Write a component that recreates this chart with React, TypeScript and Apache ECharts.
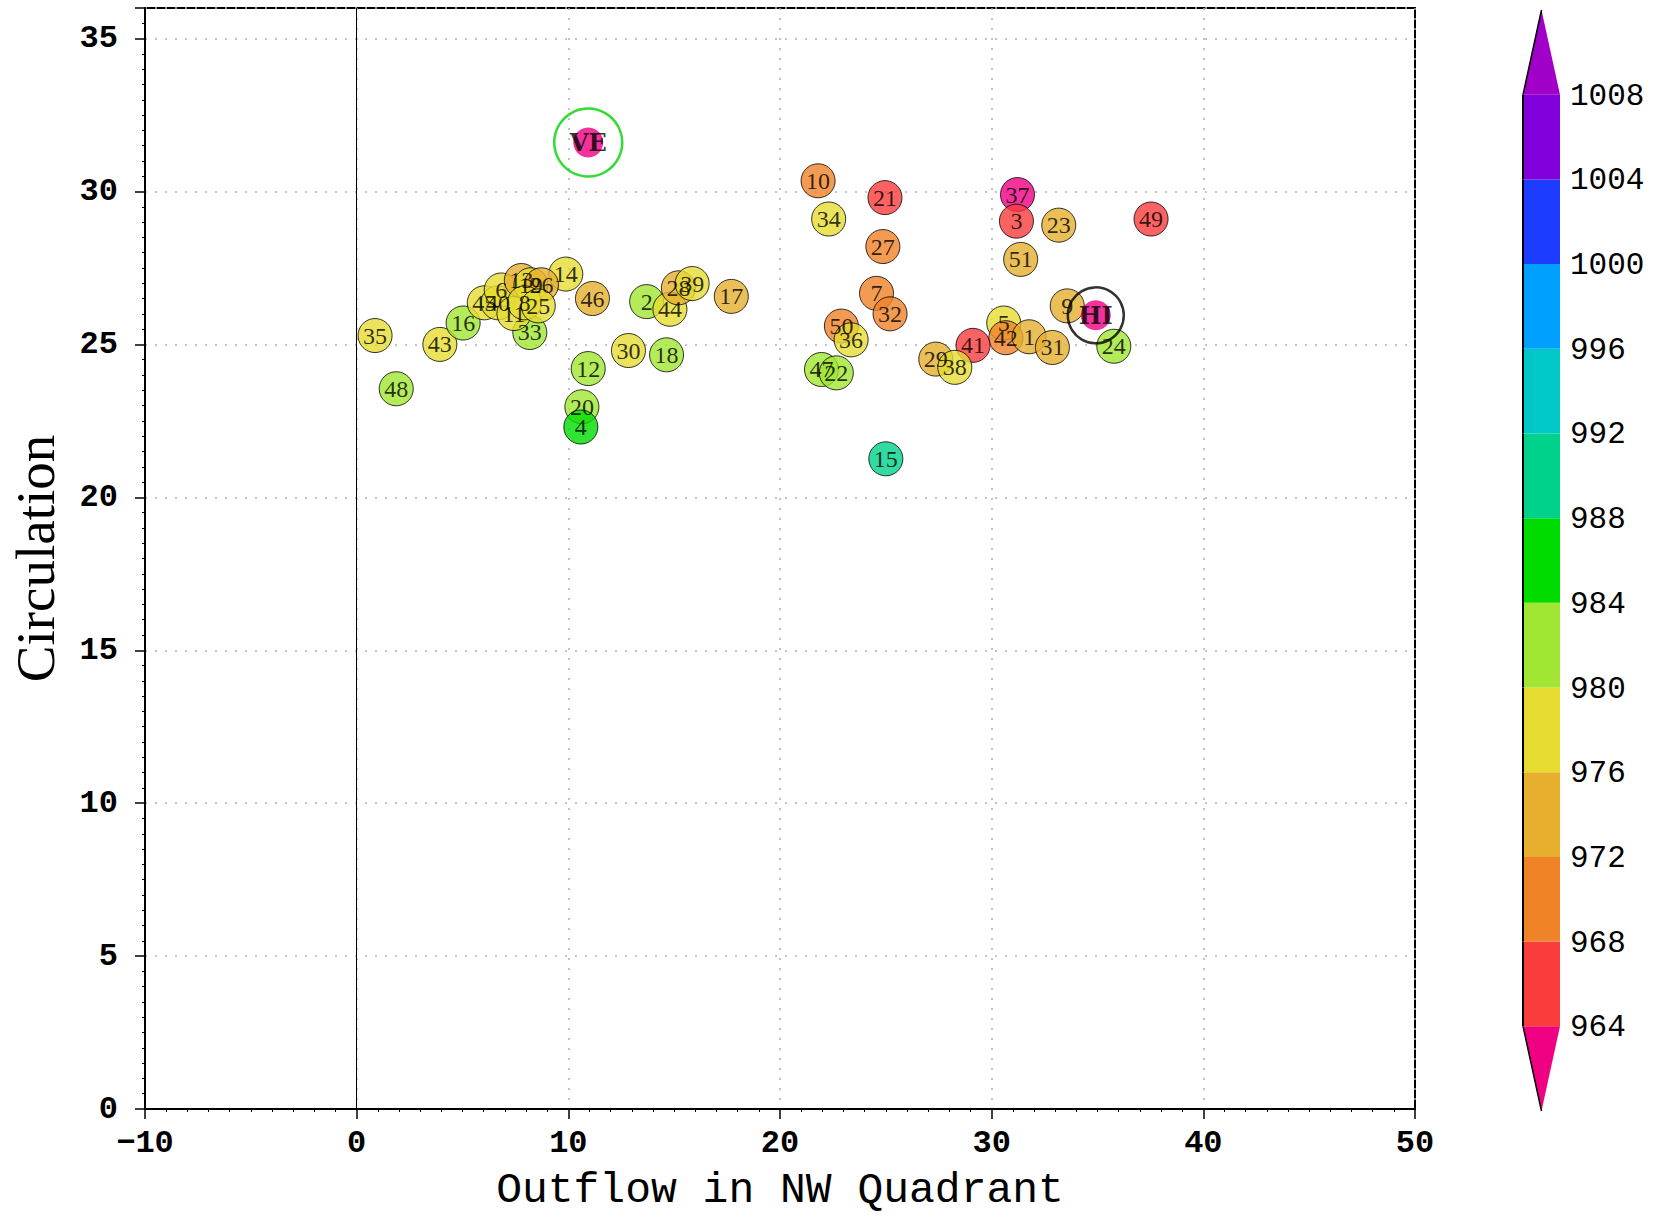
import React, { useEffect, useRef } from "react";
import * as echarts from "echarts";

// ---- data ----
const labels = [
  "10", "21", "34", "27", "37", "3", "23", "49", "51", "7", "32", "9", "24", "5", "42", "1",
  "41", "31", "29", "38", "50", "36", "47", "22", "15", "35", "48", "43", "16", "33", "14",
  "46", "12", "20", "4", "30", "18", "2", "44", "28", "39", "17", "45", "40", "6", "11",
  "13", "19", "26", "8", "25",
];
const outflow = [
  21.8, 24.96, 22.3, 24.86, 31.22, 31.17, 33.17, 37.53, 31.37, 24.56, 25.2, 33.57, 35.77, 30.57, 30.67, 31.77,
  29.12, 32.87, 27.36, 28.26, 22.9, 23.36, 21.96, 22.66, 25.0, 0.87, 1.87, 3.93, 5.03, 8.18, 9.88,
  11.14, 10.94, 10.64, 10.59, 12.84, 14.64, 13.7, 14.8, 15.2, 15.85, 17.7, 6.03, 6.68, 6.83, 7.43,
  7.78, 8.23, 8.73, 7.93, 8.58,
];
const circulation = [
  30.35, 29.8, 29.1, 28.2, 29.9, 29.03, 28.9, 29.1, 27.78, 26.67, 26.0, 26.26, 24.94, 25.7, 25.22, 25.25,
  24.97, 24.9, 24.52, 24.25, 25.6, 25.15, 24.18, 24.07, 21.26, 25.29, 23.55, 25.0, 25.7, 25.39, 27.3,
  26.5, 24.21, 22.96, 22.3, 24.8, 24.66, 26.4, 26.15, 26.85, 26.99, 26.57, 26.36, 26.36, 26.78, 26.01,
  27.09, 26.95, 26.95, 26.36, 26.26,
];
const pressure = [
  970, 966, 978, 970, 962, 966, 974, 966, 974, 970, 970, 974, 982, 978, 970, 974,
  966, 974, 974, 978, 970, 978, 982, 982, 990, 978, 982, 978, 982, 982, 978,
  974, 982, 982, 986, 978, 982, 982, 978, 974, 978, 974, 978, 978, 978, 978,
  974, 978, 974, 978, 978,
];

const stormLabels = ["VE", "HI"];
const stormOutflow = [10.94, 34.92];
const stormCirculation = [31.6, 25.95];
const stormPressure = [960, 961];
const ringColors = ["#00d200", "#000000"];

const cbBounds = [960, 964, 968, 972, 976, 980, 984, 988, 992, 996, 1000, 1004, 1008, 1012];
const cbColors = [
  "#f00082", "#fa3c3c", "#f08228", "#e6af2d", "#e6dc32", "#a0e632", "#00dc00",
  "#00d28c", "#00c8c8", "#00a0ff", "#1e3cff", "#8200dc", "#a000c8",
];

function colorFor(p: number): string {
  for (let i = 1; i < cbBounds.length - 1; i++) {
    if (p < cbBounds[i]) return cbColors[i - 1];
  }
  return cbColors[cbColors.length - 1];
}

export default function App() {
  const ref = useRef<HTMLDivElement>(null);
  useEffect(() => {
    if (!ref.current) return;
    const chart = echarts.init(ref.current, null, { renderer: "svg" });
    const pts = labels.map((l, i) => ({
      name: l,
      value: [outflow[i], circulation[i], pressure[i]],
      itemStyle: { color: colorFor(pressure[i]) },
    }));
    const storms = stormLabels.map((l, i) => ({
      name: l,
      value: [stormOutflow[i], stormCirculation[i], stormPressure[i]],
      itemStyle: { color: colorFor(stormPressure[i]) },
    }));
    const rings = stormLabels.map((l, i) => ({
      name: l,
      value: [stormOutflow[i], stormCirculation[i]],
      itemStyle: { color: "rgba(0,0,0,0)", borderColor: ringColors[i], borderWidth: 2.5 },
      symbolSize: i === 0 ? 68 : 56,
    }));
    const cbData = cbColors.map((c, i) => [cbBounds[i], cbBounds[i + 1], i]);

    const tickFont = { fontFamily: "Liberation Mono", fontWeight: "bold" as const, fontSize: 32, color: "#000" };

    chart.setOption({
      animation: false,
      backgroundColor: "#fff",
      grid: [
        { left: 141, right: 249, top: 8, bottom: 102, show: true, borderColor: "#000", borderWidth: 2 },
        { left: 1523, width: 37, top: 10, height: 1101 },
      ],
      xAxis: [
        {
          gridIndex: 0,
          type: "value",
          min: -10,
          max: 50,
          interval: 10,
          name: "Outflow in NW Quadrant",
          nameLocation: "middle",
          nameGap: 60,
          nameTextStyle: { fontFamily: "Liberation Mono", fontSize: 43, color: "#000" },
          axisLine: { show: true, onZero: false, lineStyle: { color: "#000", width: 2 } },
          axisTick: { show: true, inside: false, length: 10, lineStyle: { color: "#000", width: 1.5 } },
          minorTick: { show: true, splitNumber: 10, length: 3, lineStyle: { color: "#000" } },
          axisLabel: {
            ...tickFont,
            margin: 18,
            formatter: (v: number) => (v < 0 ? "\u2212" + Math.abs(v) : String(v)),
          },
          splitLine: { show: true, lineStyle: { color: "#b0b0b0", type: [2, 8], width: 1.5 } },
        },
        { gridIndex: 1, type: "value", min: 0, max: 1, show: false },
      ],
      yAxis: [
        {
          gridIndex: 0,
          type: "value",
          min: 0,
          max: 36,
          interval: 5,
          name: "Circulation",
          nameLocation: "middle",
          nameGap: 82,
          nameTextStyle: { fontFamily: "Liberation Serif", fontSize: 55, color: "#000" },
          axisLine: { show: true, onZero: false, lineStyle: { color: "#000", width: 2 } },
          axisTick: { show: true, inside: false, length: 10, lineStyle: { color: "#000", width: 1.5 } },
          minorTick: { show: true, splitNumber: 10, length: 3, lineStyle: { color: "#000" } },
          axisLabel: { ...tickFont, margin: 27, showMaxLabel: false },
          splitLine: { show: true, lineStyle: { color: "#b0b0b0", type: [2, 8], width: 1.5 } },
        },
        {
          gridIndex: 1,
          type: "value",
          position: "right",
          min: 960,
          max: 1012,
          interval: 4,
          axisLine: { show: false },
          axisTick: { show: false },
          splitLine: { show: false },
          axisLabel: {
            fontFamily: "Liberation Mono",
            fontSize: 31,
            color: "#000",
            margin: 10,
            verticalAlign: "top",
            padding: [-14, 0, 0, 0],
            showMinLabel: true,
            showMaxLabel: true,
            formatter: (v: number) => (v === 960 || v === 1012 ? "" : String(v)),
          },
        },
      ],
      series: [
        {
          type: "scatter",
          xAxisIndex: 0,
          yAxisIndex: 0,
          symbol: "circle",
          symbolSize: 34,
          data: pts,
          itemStyle: { borderColor: "#000", borderWidth: 1 },
          label: {
            show: true,
            position: "inside",
            formatter: "{b}",
            fontFamily: "Liberation Serif",
            fontSize: 24,
            color: "#000",
          },
          emphasis: { disabled: true },
          markLine: {
            silent: true,
            symbol: "none",
            label: { show: false },
            lineStyle: { color: "#000", width: 1, type: "solid" },
            data: [{ xAxis: 0 }],
          },
          z: 3,
        },
        {
          type: "scatter",
          xAxisIndex: 0,
          yAxisIndex: 0,
          symbol: "circle",
          symbolSize: 30,
          data: storms,
          itemStyle: { borderWidth: 0 },
          label: {
            show: true,
            position: "inside",
            formatter: "{b}",
            fontFamily: "DejaVu Serif",
            fontWeight: "bold",
            fontSize: 24,
            color: "#000",
          },
          emphasis: { disabled: true },
          z: 4,
        },
        {
          type: "scatter",
          xAxisIndex: 0,
          yAxisIndex: 0,
          symbol: "circle",
          data: rings,
          label: { show: false },
          silent: true,
          z: 5,
        },
        {
          type: "custom",
          xAxisIndex: 1,
          yAxisIndex: 1,
          data: cbData,
          silent: true,
          renderItem: (params: any, api: any) => {
            const lo = api.value(0);
            const hi = api.value(1);
            const idx = api.value(2);
            const a = api.coord([0, lo]);
            const b = api.coord([1, hi]);
            const color = cbColors[idx];
            const left = a[0];
            const right = b[0];
            const mid = (left + right) / 2;
            const children: any[] = [];
            if (idx === 0) {
              children.push({
                type: "polygon",
                shape: { points: [[mid, a[1]], [left, b[1]], [right, b[1]]] },
                style: { fill: color },
              });
              children.push({
                type: "line",
                shape: { x1: mid, y1: a[1], x2: left, y2: b[1] },
                style: { stroke: "#000", lineWidth: 1.5 },
              });
            } else if (idx === cbColors.length - 1) {
              children.push({
                type: "polygon",
                shape: { points: [[mid, b[1]], [left, a[1]], [right, a[1]]] },
                style: { fill: color },
              });
              children.push({
                type: "line",
                shape: { x1: mid, y1: b[1], x2: left, y2: a[1] },
                style: { stroke: "#000", lineWidth: 1.5 },
              });
            } else {
              children.push({
                type: "rect",
                shape: { x: left, y: b[1], width: right - left, height: a[1] - b[1] },
                style: { fill: color },
              });
              children.push({
                type: "line",
                shape: { x1: left, y1: a[1], x2: left, y2: b[1] },
                style: { stroke: "#000", lineWidth: 2 },
              });
            }
            return { type: "group", children };
          },
        },
      ],
    });
    return () => chart.dispose();
  }, []);
  return (
    <div
      ref={ref}
      style={{ position: "absolute", left: 0, top: 0, width: 1664, height: 1217 }}
    />
  );
}
